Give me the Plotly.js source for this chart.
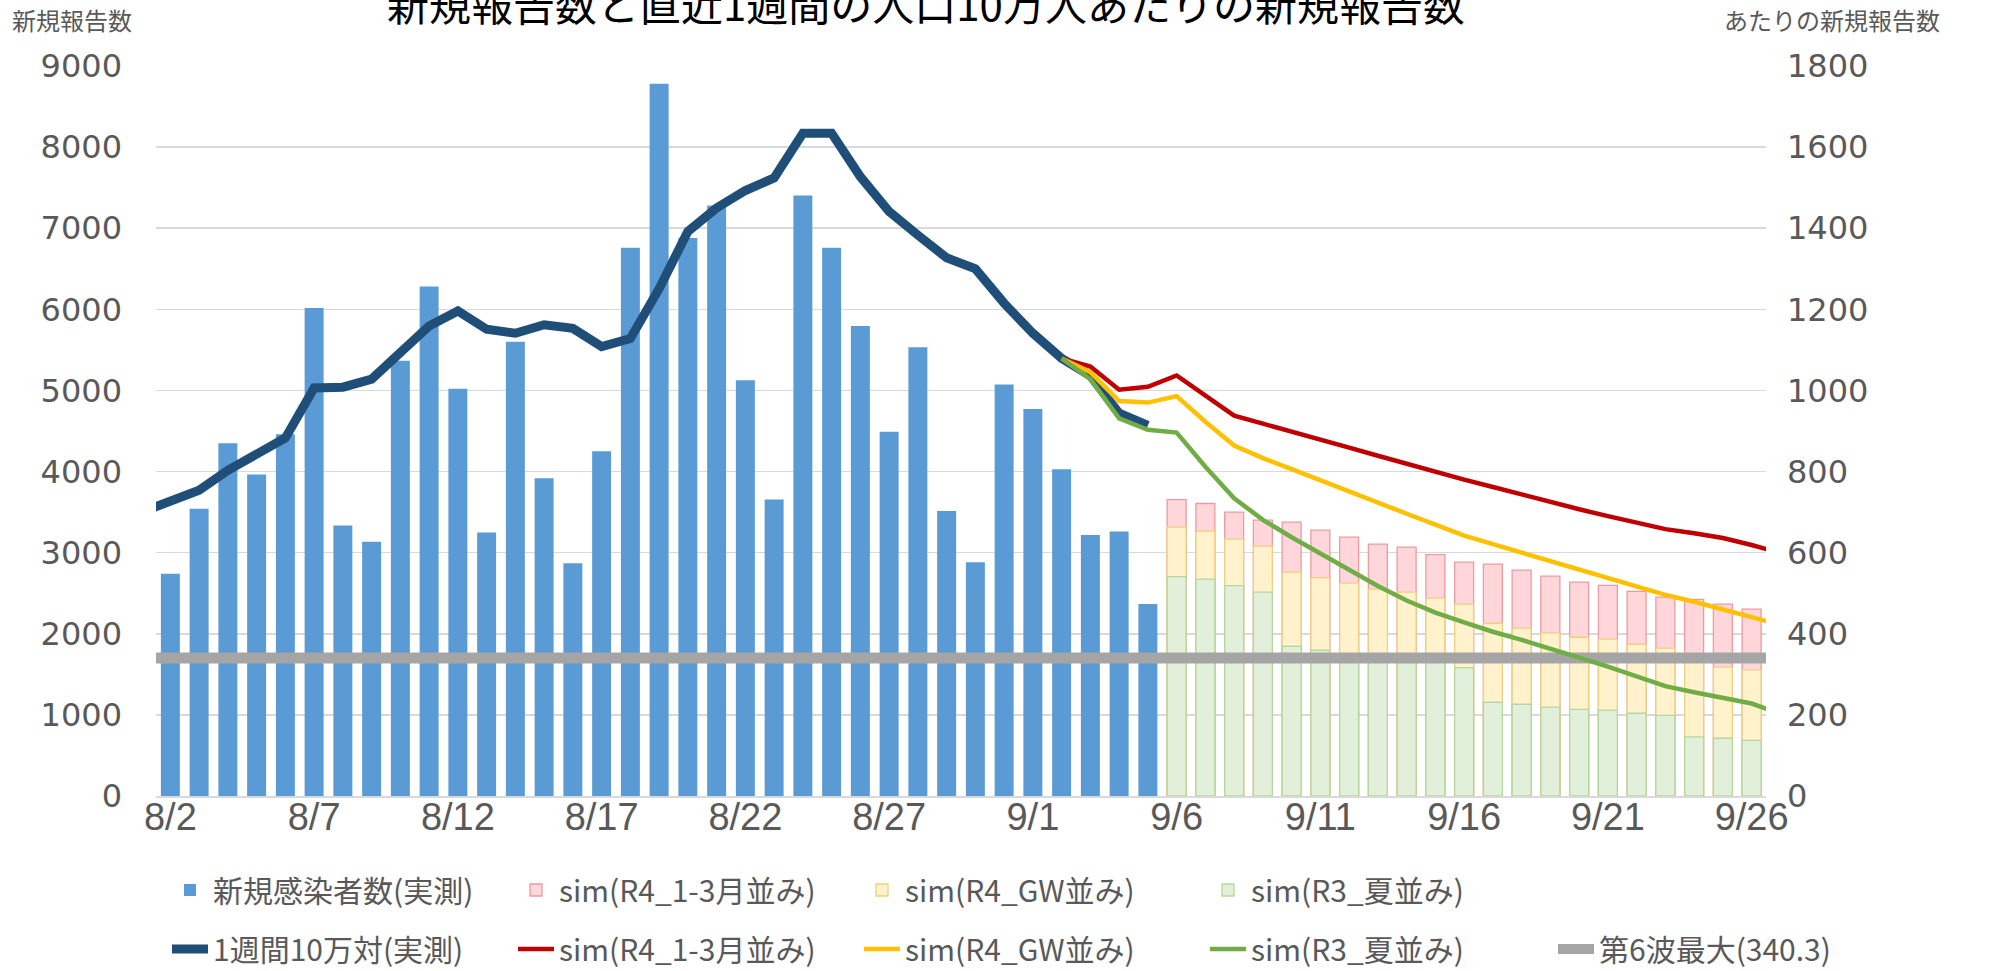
<!DOCTYPE html>
<html>
<head>
<meta charset="utf-8">
<script src="https://cdn.plot.ly/plotly-3.0.1.min.js"></script>
<style>html,body{margin:0;padding:0;background:#fff;}#chart{width:2013px;height:971px;}</style>
</head>
<body>
<div id="chart"></div>
<script>
// ---- categories ----
const allDates = ['8/1','8/2','8/3','8/4','8/5','8/6','8/7','8/8','8/9','8/10','8/11','8/12','8/13','8/14','8/15','8/16','8/17','8/18','8/19','8/20','8/21','8/22','8/23','8/24','8/25','8/26','8/27','8/28','8/29','8/30','8/31',
  '9/1','9/2','9/3','9/4','9/5','9/6','9/7','9/8','9/9','9/10','9/11','9/12','9/13','9/14','9/15','9/16','9/17','9/18','9/19','9/20','9/21','9/22','9/23','9/24','9/25','9/26','9/27'];
const tickDates = ['8/2','8/7','8/12','8/17','8/22','8/27','9/1','9/6','9/11','9/16','9/21','9/26'];

// ---- actual daily cases (bars, left axis) ----
const actualDates = ['8/2','8/3','8/4','8/5','8/6','8/7','8/8','8/9','8/10','8/11','8/12','8/13','8/14','8/15','8/16','8/17','8/18','8/19','8/20','8/21','8/22','8/23','8/24','8/25','8/26','8/27','8/28','8/29','8/30','8/31','9/1','9/2','9/3','9/4','9/5'];
const actualCases = [2740,3540,4350,3965,4460,6015,3335,3135,5365,6280,5020,3250,5600,3917,2870,4250,6760,8780,6880,7280,5127,3654,7404,6760,5796,4490,5532,3513,2881,5072,4771,4029,3219,3261,2366];

// ---- simulated daily cases (bars, left axis) ----
const simDates = ['9/6','9/7','9/8','9/9','9/10','9/11','9/12','9/13','9/14','9/15','9/16','9/17','9/18','9/19','9/20','9/21','9/22','9/23','9/24','9/25','9/26'];
const simR4Q1Bars = [3655,3606,3499,3401,3376,3277,3191,3105,3068,2977,2883,2858,2784,2710,2636,2597,2523,2452,2425,2365,2303];
const simR4GWBars = [3314,3265,3166,3080,2759,2693,2624,2550,2513,2439,2365,2130,2069,2011,1957,1933,1871,1822,1690,1588,1554];
const simR3SummerBars = [2705,2673,2594,2513,1846,1797,1750,1720,1700,1670,1583,1156,1131,1096,1069,1059,1020,995,728,712,687];

// ---- weekly per 100k (lines, right axis) ----
const weeklyDates = ['8/1','8/2','8/3','8/4','8/5','8/6','8/7','8/8','8/9','8/10','8/11','8/12','8/13','8/14','8/15','8/16','8/17','8/18','8/19','8/20','8/21','8/22','8/23','8/24','8/25','8/26','8/27','8/28','8/29','8/30','8/31','9/1','9/2','9/3','9/4','9/5'];
const weeklyActual = [700,728,754,803,842,883,1006,1008,1028,1092,1159,1196,1151,1141,1162,1153,1108,1128,1251,1392,1450,1493,1524,1634,1634,1527,1441,1383,1327,1300,1215,1141,1079,1036,944,914];

const simLineDates = ['9/2','9/3','9/4','9/5','9/6','9/7','9/8','9/9','9/10','9/11','9/12','9/13','9/14','9/15','9/16','9/17','9/18','9/19','9/20','9/21','9/22','9/23','9/24','9/25','9/26','9/27'];
const simR4Q1Line = [1079,1059,1002,1009,1037,986,938,918,899,878,859,839,819,800,780,762,743,725,707,690,673,658,648,636,619,599];
const simR4GWLine = [1079,1045,974,970,986,923,864,833,806,778,751,724,696,669,642,621,600,578,558,537,516,496,479,461,442,422];
const simR3SummerLine = [1079,1028,931,903,896,812,734,681,638,597,556,518,482,452,428,405,385,364,341,319,294,271,256,243,228,203];

const wave6Max = 340.3;
const wave6Line = allDates.map(() => wave6Max);

// ---- labels ----
const names = {
  barActual: '新規感染者数(実測)',
  barQ1: 'sim(R4_1-3月並み)',
  barGW: 'sim(R4_GW並み)',
  barR3: 'sim(R3_夏並み)',
  lineActual: '1週間10万対(実測)',
  lineQ1: 'sim(R4_1-3月並み)',
  lineGW: 'sim(R4_GW並み)',
  lineR3: 'sim(R3_夏並み)',
  wave6: '第6波最大(340.3)'
};

const BARW = 0.66;
const traces = [
  {type:'bar', x:actualDates, y:actualCases, name:names.barActual, width:BARW,
   marker:{color:'#5B9BD5', line:{width:0}}, legend:'legend', legendrank:1},
  {type:'bar', x:simDates, y:simR4Q1Bars, name:names.barQ1, width:BARW,
   marker:{color:'#FFD7DA', line:{color:'#EE9AA0', width:1.3}}, legend:'legend', legendrank:2},
  {type:'bar', x:simDates, y:simR4GWBars, name:names.barGW, width:BARW,
   marker:{color:'#FFF2CC', line:{color:'#F0D07E', width:1.3}}, legend:'legend', legendrank:3},
  {type:'bar', x:simDates, y:simR3SummerBars, name:names.barR3, width:BARW,
   marker:{color:'#E2EFDA', line:{color:'#B5D69C', width:1.3}}, legend:'legend', legendrank:4},
  {type:'scatter', mode:'lines', x:allDates, y:wave6Line, yaxis:'y2', name:names.wave6,
   line:{color:'#A5A5A5', width:11}, legend:'legend3', legendrank:9},
  {type:'scatter', mode:'lines', x:weeklyDates, y:weeklyActual, yaxis:'y2', name:names.lineActual,
   line:{color:'#1F4E79', width:9}, legend:'legend2', legendrank:5},
  {type:'scatter', mode:'lines', x:simLineDates, y:simR4Q1Line, yaxis:'y2', name:names.lineQ1,
   line:{color:'#C00000', width:4.5}, legend:'legend2', legendrank:6},
  {type:'scatter', mode:'lines', x:simLineDates, y:simR4GWLine, yaxis:'y2', name:names.lineGW,
   line:{color:'#FFC000', width:4.5}, legend:'legend2', legendrank:7},
  {type:'scatter', mode:'lines', x:simLineDates, y:simR3SummerLine, yaxis:'y2', name:names.lineR3,
   line:{color:'#70AD47', width:4.5}, legend:'legend2', legendrank:8}
];

const tickFontY = {family:'DejaVu Sans', size:32, color:'#595959'};
const legendFont = {family:'Noto Sans CJK JP', size:30, color:'#595959'};
const legendBase = {orientation:'h', xref:'container', yref:'container', yanchor:'middle', xanchor:'left',
  font:legendFont, entrywidth:295, entrywidthmode:'pixels', itemwidth:36, bgcolor:'rgba(0,0,0,0)', traceorder:'normal'};

const layout = {
  width:2013, height:971,
  paper_bgcolor:'#ffffff', plot_bgcolor:'#ffffff',
  margin:{l:156, r:247, t:66, b:175, pad:0},
  barmode:'overlay',
  showlegend:true,
  title:{text:'新規報告数と直近1週間の人口10万人あたりの新規報告数',
    font:{family:'Noto Sans CJK JP', size:42, color:'#000000'},
    xref:'container', x:0.46, xanchor:'center', yref:'container', y:0.994, yanchor:'middle'},
  xaxis:{type:'category', categoryorder:'array', categoryarray:allDates, range:[0.5,56.5],
    tickmode:'array', tickvals:tickDates, ticktext:tickDates,
    showgrid:false, zeroline:false, showline:true, linecolor:'#D9D9D9', linewidth:2,
    ticks:'', ticklabelstandoff:-14,
    tickfont:{family:'Liberation Sans Narrow, Liberation Sans', size:38, color:'#595959'}},
  yaxis:{range:[0,9000], dtick:1000, tick0:0, showgrid:true, gridcolor:'#D9D9D9', gridwidth:1.5,
    zeroline:false, showline:false, ticks:'', ticklabelstandoff:33, tickfont:tickFontY},
  yaxis2:{range:[0,1800], dtick:200, tick0:0, overlaying:'y', side:'right', showgrid:false,
    zeroline:false, showline:false, ticks:'', ticklabelstandoff:20, tickfont:tickFontY},
  legend:Object.assign({}, legendBase, {x:167/2013, y:1-890/971}),
  legend2:Object.assign({}, legendBase, {x:167/2013, y:1-949/971}),
  legend3:Object.assign({}, legendBase, {x:1553/2013, y:1-949/971}),
  annotations:[
    {text:'新規報告数', xref:'paper', yref:'paper', x:(10-156)/1610, y:(796-19)/730, xanchor:'left', yanchor:'middle',
     showarrow:false, font:{family:'Noto Sans CJK JP', size:24, color:'#595959'}},
    {text:'あたりの新規報告数', xref:'paper', yref:'paper', x:(1722-156)/1610, y:(796-19)/730, xanchor:'left', yanchor:'middle',
     showarrow:false, font:{family:'Noto Sans CJK JP', size:24, color:'#595959'}}
  ]
};

Plotly.newPlot('chart', traces, layout, {displayModeBar:false, staticPlot:true});
</script>
</body>
</html>
